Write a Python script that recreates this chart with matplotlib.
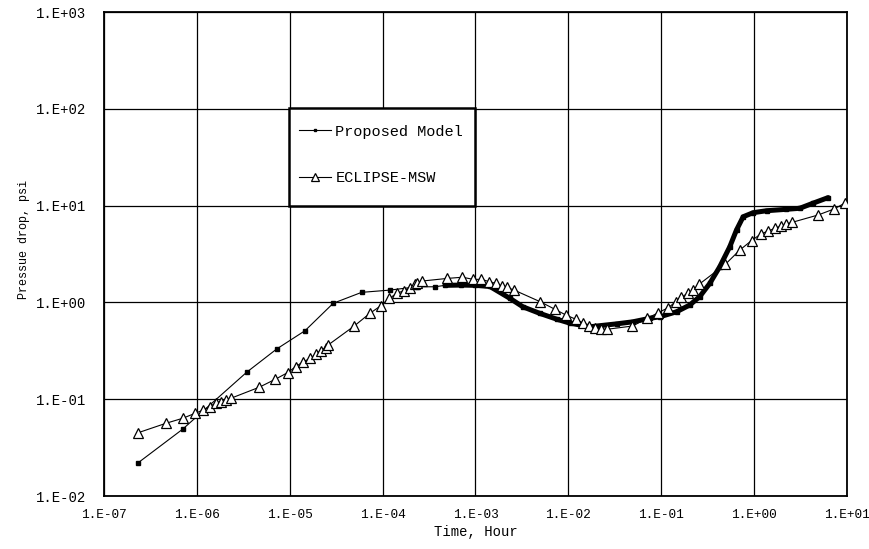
import matplotlib
matplotlib.use("Agg")
import matplotlib.pyplot as plt
from matplotlib.patches import Rectangle
import numpy as np

plt.rcParams['font.family'] = ['Liberation Mono', 'DejaVu Sans Mono']

# Proposed model: pressure drop (psi) vs time (hour)
prop_t = [2.34e-7, 7.03e-7, 3.44e-6, 7.23e-6, 1.46e-5, 2.94e-5, 5.94e-5, 1.20e-4,
          2.32e-4, 3.66e-4, 4.70e-4, 7.00e-4, 1.00e-3, 1.43e-3, 2.35e-3, 3.24e-3,
          4.93e-3, 7.52e-3, 1.04e-2, 1.70e-2, 3.30e-2, 4.94e-2, 7.53e-2, 9.66e-2,
          0.146, 0.203, 0.260, 0.333, 0.427, 0.547, 0.646, 0.762, 0.977, 1.36,
          2.23, 3.10, 4.32, 6.27]
prop_dp = [0.0221, 0.049, 0.19, 0.33, 0.51, 0.98, 1.27, 1.34,
           1.45, 1.45, 1.50, 1.51, 1.50, 1.46, 1.10, 0.90,
           0.77, 0.67, 0.61, 0.56, 0.60, 0.63, 0.685, 0.71,
           0.80, 0.94, 1.15, 1.57, 2.34, 3.76, 5.60, 7.67, 8.45, 8.85,
           9.16, 9.38, 10.6, 12.1]

# ECLIPSE-MSW simulation results
ecl_t = [2.34e-7, 4.65e-7, 7.03e-7, 9.55e-7, 1.17e-6, 1.38e-6, 1.61e-6, 1.80e-6,
         2.04e-6, 2.31e-6, 4.70e-6, 6.93e-6, 9.48e-6, 1.16e-5, 1.40e-5, 1.67e-5,
         1.91e-5, 2.15e-5, 2.43e-5, 2.59e-5, 4.94e-5, 7.29e-5, 9.59e-5, 1.18e-4,
         1.42e-4, 1.69e-4, 1.97e-4, 2.23e-4, 2.36e-4, 2.63e-4, 4.99e-4, 7.24e-4,
         9.44e-4, 1.16e-3, 1.40e-3, 1.66e-3, 1.91e-3, 2.16e-3, 2.61e-3, 4.93e-3,
         7.16e-3, 9.40e-3, 1.21e-2, 1.42e-2, 1.67e-2, 1.93e-2, 2.24e-2, 2.58e-2,
         4.90e-2, 7.10e-2, 9.27e-2, 0.119, 0.144, 0.165, 0.192, 0.220, 0.256,
         0.491, 0.702, 0.938, 1.18, 1.42, 1.67, 1.94, 2.23, 2.56, 4.89, 7.26, 9.46]
ecl_dp = [0.0451, 0.0564, 0.0635, 0.0714, 0.0773, 0.0838, 0.0920, 0.0942,
          0.0982, 0.102, 0.133, 0.160, 0.188, 0.217, 0.244, 0.264,
          0.293, 0.317, 0.340, 0.363, 0.570, 0.771, 0.925, 1.10,
          1.24, 1.32, 1.42, 1.55, 1.58, 1.66, 1.77, 1.82,
          1.73, 1.73, 1.64, 1.57, 1.48, 1.43, 1.34, 1.02,
          0.849, 0.741, 0.668, 0.617, 0.570, 0.548, 0.531, 0.527,
          0.570, 0.685, 0.783, 0.881, 1.02, 1.13, 1.24, 1.34, 1.54,
          2.48, 3.48, 4.35, 5.09, 5.47, 5.82, 6.15, 6.46, 6.71, 8.00, 9.23, 10.6]

x_ticks = [1e-7, 1e-6, 1e-5, 1e-4, 1e-3, 1e-2, 1e-1, 1e0, 1e1]
x_labels = ['1.E-07', '1.E-06', '1.E-05', '1.E-04', '1.E-03', '1.E-02', '1.E-01', '1.E+00', '1.E+01']
y_ticks = [1e-2, 1e-1, 1e0, 1e1, 1e2, 1e3]
y_labels = ['1.E-02', '1.E-01', '1.E+00', '1.E+01', '1.E+02', '1.E+03']

fig = plt.figure(figsize=(8.7, 5.49), dpi=100)
ax = fig.add_axes([104 / 870, 53 / 549, 743 / 870, 484 / 549])

prop_t = np.array(prop_t)
prop_dp = np.array(prop_dp)

# early part: thin line with small squares; later output is dense so it looks like a thick line
ax.plot(prop_t, prop_dp, color='black', lw=0.8, marker='s', ms=2.5,
        label='Proposed Model', zorder=3)
dense = prop_t >= 4.5e-4
ax.plot(prop_t[dense], prop_dp[dense], color='black', lw=3.6,
        solid_capstyle='round', zorder=3)

ax.plot(ecl_t, ecl_dp, color='black', lw=0.8, marker='^', ms=7,
        mfc='white', mec='black', mew=0.9, label='ECLIPSE-MSW', zorder=4)

ax.set_xscale('log')
ax.set_yscale('log')
ax.set_xlim(1e-7, 1e1)
ax.set_ylim(1e-2, 1e3)
ax.set_xticks(x_ticks)
ax.set_xticklabels(x_labels)
ax.set_yticks(y_ticks)
ax.set_yticklabels(y_labels)
ax.minorticks_off()
ax.tick_params(axis='both', length=0)
ax.tick_params(axis='x', pad=9, labelsize=9.2)
ax.tick_params(axis='y', pad=13, labelsize=10)

ax.grid(True, which='major', color='black', lw=0.9)
ax.set_axisbelow(True)
for s in ax.spines.values():
    s.set_linewidth(1.3)

ax.set_xlabel('Time, Hour', fontsize=10)
ax.xaxis.set_label_coords(0.5, -0.06)
ax.set_ylabel('Pressue drop, psi', fontsize=8.5)
ax.yaxis.set_label_coords(-0.1, 0.53)

# legend box drawn separately so its padding can differ across and down
box = Rectangle((0.249, 0.599), 0.25, 0.203, transform=ax.transAxes,
                facecolor='white', edgecolor='black', lw=1.8, zorder=5)
ax.add_patch(box)
leg = ax.legend(loc='upper left', bbox_to_anchor=(0.262, 0.767), borderaxespad=0,
                fontsize=11, frameon=False, handlelength=2.1, handletextpad=0.3,
                labelspacing=2.1, borderpad=0, markerscale=0.8)
leg.set_zorder(6)

fig.savefig('out.png', dpi=100)
